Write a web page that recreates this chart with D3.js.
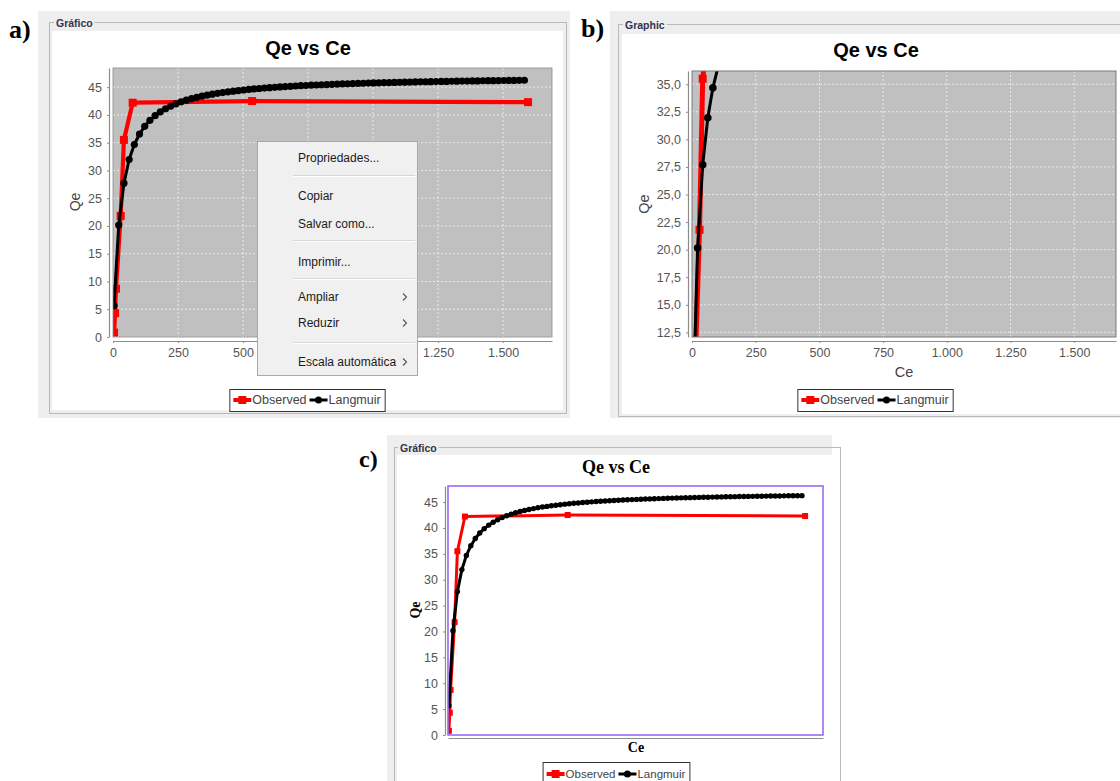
<!DOCTYPE html>
<html><head><meta charset="utf-8">
<script src="https://cdn.jsdelivr.net/npm/d3@7"></script>
<style>body{margin:0;background:#fff;} svg{display:block;}</style>
</head><body>
<svg id="chart" width="1120" height="781"></svg>
<script>
// ---------------- data ----------------
const observedCe = [4, 8, 11.5, 29.5, 42, 75.6, 535, 1596];
const observedQe = [0.8, 4.3, 8.7, 21.8, 35.5, 42.2, 42.5, 42.3];
const langmuirCe = [4, 22, 42, 62, 82, 102, 122, 142, 162, 182, 202, 222, 242, 262, 282, 302, 322, 342, 362, 382,
  402, 422, 442, 462, 482, 502, 522, 542, 562, 582, 602, 622, 642, 662, 682, 702, 722, 742, 762, 782,
  802, 822, 842, 862, 882, 902, 922, 942, 962, 982, 1002, 1022, 1042, 1062, 1082, 1102, 1122, 1142, 1162, 1182,
  1202, 1222, 1242, 1262, 1282, 1302, 1322, 1342, 1362, 1382, 1402, 1422, 1442, 1462, 1482, 1502, 1522, 1542, 1562, 1582];
const langmuirQe = [5.64, 20.15, 27.70, 31.95, 34.67, 36.56, 37.95, 39.02, 39.86, 40.55, 41.11, 41.59, 42.00, 42.35, 42.65, 42.92, 43.16, 43.37, 43.56, 43.73,
  43.89, 44.03, 44.16, 44.28, 44.39, 44.49, 44.59, 44.68, 44.76, 44.83, 44.91, 44.97, 45.04, 45.10, 45.15, 45.21, 45.26, 45.30, 45.35, 45.39,
  45.43, 45.47, 45.51, 45.55, 45.58, 45.61, 45.64, 45.67, 45.70, 45.73, 45.76, 45.78, 45.81, 45.83, 45.85, 45.88, 45.90, 45.92, 45.94, 45.96,
  45.97, 45.99, 46.01, 46.03, 46.04, 46.06, 46.07, 46.09, 46.10, 46.12, 46.13, 46.15, 46.16, 46.17, 46.18, 46.20, 46.21, 46.22, 46.23, 46.24];
const xTickValues = [0, 250, 500, 750, 1000, 1250, 1500];
const yTicksFull = [0, 5, 10, 15, 20, 25, 30, 35, 40, 45];
const yTicksZoom = [12.5, 15, 17.5, 20, 22.5, 25, 27.5, 30, 32.5, 35];
const seriesNames = ["Observed", "Langmuir"];
const seriesColors = ["#ff0000", "#000000"];
const panelLetters = ["a)", "b)", "c)"];
const frameTitles = ["Gráfico", "Graphic", "Gráfico"];
const chartTitle = "Qe vs Ce";
const xAxisTitle = "Ce";
const yAxisTitle = "Qe";
const menuLabels = ["Propriedades...", "Copiar", "Salvar como...", "Imprimir...", "Ampliar", "Reduzir", "Escala automática"];
const menuSubmenu = [false, false, false, false, true, true, true];

// ---------------- helpers ----------------
const ptBR = d3.formatLocale({decimal: ",", thousands: ".", grouping: [3], currency: ["R$", ""]});
const fmtInt = ptBR.format(",d");
const fmtOne = ptBR.format(",.1f");
const SANS = "'Liberation Sans', Arial, sans-serif";
const SERIF = "'Liberation Serif', 'Times New Roman', serif";
const MENU = {x: 257.5, y: 141.5, w: 160, h: 234};

const svg = d3.select("#chart");
svg.append("rect").attr("width", 1120).attr("height", 781).attr("fill", "#ffffff");

const observed = observedCe.map((c, i) => [c, observedQe[i]]);
const langmuir = langmuirCe.map((c, i) => [c, langmuirQe[i]]);

const panels = [
  { bg: [38, 11, 570, 418], white: [52, 31, 563, 410], frame: [49, 22, 566, 413], frameTitleX: 56,
    letter: {x: 9, y: 38, size: 26},
    title: {x: 308, y: 55, font: SANS, size: 20},
    plot: {x: 113, y: 68, w: 439, h: 269}, off: 4,
    xDomain: [0, 1688], yDomain: [0, 48.45], yTicks: yTicksFull, yFmt: fmtInt, xLabels: true, underMenu: true,
    bgFill: "#c0c0c0", grid: true, outline: "#8a8a8a", outlineW: 0.8,
    xTitle: null,
    yTitle: {x: 75, y: 202, font: SANS, size: 14, weight: "normal"},
    legend: {cx: 307, y: 389, h: 22, size: 12.5},
    style: {rw: 4.2, rs: 8, bw: 3, br: 3.6} },
  { bg: [610, 11, 1120, 418], white: [622, 34, 1120, 414], frame: [618, 24, 1125, 416], frameTitleX: 625,
    letter: {x: 581, y: 37, size: 26},
    title: {x: 876, y: 57, font: SANS, size: 20},
    plot: {x: 692, y: 71, w: 424, h: 266}, off: 4,
    xDomain: [0, 1664], yDomain: [12.08, 36.2], yTicks: yTicksZoom, yFmt: fmtOne, xLabels: true, underMenu: false,
    bgFill: "#c0c0c0", grid: true, outline: "#7a7a7a", outlineW: 1,
    xTitle: {x: 904, y: 377, font: SANS, size: 14.5, weight: "normal"},
    yTitle: {x: 644, y: 204, font: SANS, size: 14.5, weight: "normal"},
    legend: {cx: 875, y: 389, h: 22, size: 12.5},
    style: {rw: 5, rs: 8, bw: 3, br: 3.8} },
  { bg: [387, 435, 832, 790], white: [397, 455, 832, 790], frame: [394, 447, 840, 800], frameTitleX: 400,
    letter: {x: 359, y: 467, size: 24},
    title: {x: 616, y: 473, font: SERIF, size: 18},
    plot: {x: 448, y: 486, w: 375, h: 249}, off: 3,
    xDomain: [0, 1676], yDomain: [0, 48.1], yTicks: yTicksFull, yFmt: fmtInt, xLabels: false, underMenu: false,
    bgFill: "#ffffff", grid: false, outline: "#9a6cf2", outlineW: 1.6,
    xTitle: {x: 636, y: 752, font: SERIF, size: 14, weight: "bold"},
    yTitle: {x: 415, y: 610, font: SERIF, size: 14, weight: "bold"},
    legend: {cx: 616, y: 762, h: 24, size: 11.5},
    style: {rw: 3, rs: 6, bw: 3, br: 2.7} }
];

function drawPanel(p, i) {
  const g = svg.append("g");
  g.append("rect").attr("x", p.bg[0]).attr("y", p.bg[1])
    .attr("width", p.bg[2] - p.bg[0]).attr("height", p.bg[3] - p.bg[1]).attr("fill", "#eeeeee");
  g.append("rect").attr("x", p.white[0]).attr("y", p.white[1])
    .attr("width", p.white[2] - p.white[0]).attr("height", p.white[3] - p.white[1]).attr("fill", "#ffffff");
  g.append("rect").attr("x", p.frame[0] + 0.5).attr("y", p.frame[1] + 0.5)
    .attr("width", p.frame[2] - p.frame[0]).attr("height", p.frame[3] - p.frame[1])
    .attr("fill", "none").attr("stroke", "#b8b8b8").attr("stroke-width", 1);
  const ft = g.append("text").attr("x", p.frameTitleX).attr("y", p.frame[1] + 4.5)
    .attr("font-family", SANS).attr("font-weight", "bold").attr("font-size", 10.5)
    .attr("fill", "#33334d").text(frameTitles[i]);
  const bb = ft.node().getBBox();
  g.insert("rect", () => ft.node()).attr("x", bb.x - 2).attr("y", bb.y).attr("width", bb.width + 4)
    .attr("height", bb.height).attr("fill", "#eeeeee");

  svg.append("text").attr("x", p.letter.x).attr("y", p.letter.y)
    .attr("font-family", SERIF).attr("font-weight", "bold").attr("font-size", p.letter.size)
    .attr("fill", "#000").text(panelLetters[i]);

  g.append("text").attr("x", p.title.x).attr("y", p.title.y).attr("text-anchor", "middle")
    .attr("font-family", p.title.font).attr("font-weight", "bold").attr("font-size", p.title.size)
    .attr("fill", "#000").text(chartTitle);

  const P = p.plot;
  const x = d3.scaleLinear().domain(p.xDomain).range([P.x, P.x + P.w]);
  const y = d3.scaleLinear().domain(p.yDomain).range([P.y + P.h, P.y]);

  g.append("rect").attr("x", P.x).attr("y", P.y).attr("width", P.w).attr("height", P.h).attr("fill", p.bgFill);

  if (p.grid) {
    g.append("g").selectAll("line").data(xTickValues.filter(v => v > p.xDomain[0])).join("line")
      .attr("x1", d => x(d)).attr("x2", d => x(d)).attr("y1", P.y).attr("y2", P.y + P.h)
      .attr("stroke", "#ffffff").attr("stroke-width", 0.8).attr("stroke-dasharray", "2,2").attr("opacity", 0.85);
    g.append("g").selectAll("line").data(p.yTicks).join("line")
      .attr("x1", P.x).attr("x2", P.x + P.w).attr("y1", d => y(d)).attr("y2", d => y(d))
      .attr("stroke", "#ffffff").attr("stroke-width", 0.8).attr("stroke-dasharray", "2,2").attr("opacity", 0.85);
  }

  // x tick values whose labels are not hidden by the context menu
  const shownX = xTickValues.filter(v => !(p.underMenu && x(v) > MENU.x && x(v) < MENU.x + MENU.w));

  const yAxis = d3.axisLeft(y).tickValues(p.yTicks).tickFormat(p.yFmt).tickSizeInner(2).tickSizeOuter(0).tickPadding(5);
  const ya = g.append("g").attr("transform", `translate(${P.x - p.off},0)`).call(yAxis);
  const xAxis = d3.axisBottom(x).tickValues(p.xLabels ? shownX : []).tickFormat(fmtInt)
    .tickSizeInner(2).tickSizeOuter(0).tickPadding(5);
  const xa = g.append("g").attr("transform", `translate(0,${P.y + P.h + p.off})`).call(xAxis);
  [ya, xa].forEach(a => {
    a.select(".domain").attr("stroke", "#8c8c8c").attr("stroke-width", 1.2);
    a.selectAll(".tick line").attr("stroke", "#8c8c8c");
    a.selectAll(".tick text").attr("fill", "#555555").attr("font-family", SANS).attr("font-size", 12.5);
  });

  if (p.xTitle) {
    g.append("text").attr("x", p.xTitle.x).attr("y", p.xTitle.y).attr("text-anchor", "middle")
      .attr("font-family", p.xTitle.font).attr("font-weight", p.xTitle.weight).attr("font-size", p.xTitle.size)
      .attr("fill", i === 2 ? "#000" : "#444").text(xAxisTitle);
  }
  g.append("text").attr("transform", `translate(${p.yTitle.x},${p.yTitle.y}) rotate(-90)`)
    .attr("text-anchor", "middle").attr("dominant-baseline", "central")
    .attr("font-family", p.yTitle.font).attr("font-weight", p.yTitle.weight).attr("font-size", p.yTitle.size)
    .attr("fill", i === 2 ? "#000" : "#444").text(yAxisTitle);

  const cid = "clip" + i;
  svg.append("clipPath").attr("id", cid).append("rect").attr("x", P.x).attr("y", P.y).attr("width", P.w).attr("height", P.h);
  const sg = g.append("g").attr("clip-path", `url(#${cid})`);
  const line = d3.line().x(d => x(d[0])).y(d => y(d[1]));
  const s = p.style;
  sg.append("path").datum(observed).attr("d", line).attr("fill", "none")
    .attr("stroke", seriesColors[0]).attr("stroke-width", s.rw).attr("stroke-linejoin", "round");
  sg.append("g").selectAll("rect").data(observed).join("rect")
    .attr("x", d => x(d[0]) - s.rs / 2).attr("y", d => y(d[1]) - s.rs / 2)
    .attr("width", s.rs).attr("height", s.rs).attr("fill", seriesColors[0]);
  sg.append("path").datum(langmuir).attr("d", line).attr("fill", "none")
    .attr("stroke", seriesColors[1]).attr("stroke-width", s.bw).attr("stroke-linejoin", "round");
  sg.append("g").selectAll("circle").data(langmuir).join("circle")
    .attr("cx", d => x(d[0])).attr("cy", d => y(d[1])).attr("r", s.br).attr("fill", seriesColors[1]);

  g.append("rect").attr("x", P.x).attr("y", P.y).attr("width", P.w).attr("height", P.h)
    .attr("fill", "none").attr("stroke", p.outline).attr("stroke-width", p.outlineW);

  // legend
  const L = p.legend;
  const lg = g.append("g");
  const box = lg.append("rect").attr("fill", "#ffffff").attr("stroke", "#333").attr("stroke-width", 1);
  let cx = 0;
  const cy = L.y + L.h / 2;
  const items = [];
  seriesNames.forEach((name, k) => {
    const it = lg.append("g");
    it.append("line").attr("x1", cx).attr("x2", cx + 18).attr("y1", cy).attr("y2", cy)
      .attr("stroke", seriesColors[k]).attr("stroke-width", k === 0 ? 4 : 3);
    if (k === 0) it.append("rect").attr("x", cx + 5).attr("y", cy - 4).attr("width", 8).attr("height", 8).attr("fill", seriesColors[k]);
    else it.append("circle").attr("cx", cx + 9).attr("cy", cy).attr("r", 3.5).attr("fill", seriesColors[k]);
    const t = it.append("text").attr("x", cx + 19).attr("y", cy).attr("dominant-baseline", "central")
      .attr("font-family", SANS).attr("font-size", L.size).attr("fill", "#444").text(name);
    cx += 19 + t.node().getComputedTextLength() + 3;
    items.push(it);
  });
  const totalW = cx - 3 + 8;
  const x0 = L.cx - totalW / 2;
  items.forEach(it => it.attr("transform", `translate(${x0 + 4},0)`));
  box.attr("x", x0 + 0.5).attr("y", L.y + 0.5).attr("width", totalW).attr("height", L.h);
}

panels.forEach(drawPanel);

// ---------------- context menu over panel a ----------------
const menu = svg.append("g");
menu.append("rect").attr("x", MENU.x).attr("y", MENU.y).attr("width", MENU.w).attr("height", MENU.h)
  .attr("fill", "#f0f0f0").attr("stroke", "#a8a8a8").attr("stroke-width", 1);
const menuY = [158, 196, 224, 262, 297, 323, 362];
const sepY = [175, 240, 278, 342];
sepY.forEach(sy => {
  menu.append("line").attr("x1", 293).attr("x2", 415).attr("y1", sy + 0.5).attr("y2", sy + 0.5).attr("stroke", "#d6d6d6");
  menu.append("line").attr("x1", 293).attr("x2", 415).attr("y1", sy + 1.5).attr("y2", sy + 1.5).attr("stroke", "#ffffff");
});
menuLabels.forEach((lab, k) => {
  menu.append("text").attr("x", 298).attr("y", menuY[k]).attr("dominant-baseline", "central")
    .attr("font-family", SANS).attr("font-size", 12).attr("fill", "#1a1a1a").text(lab);
  if (menuSubmenu[k]) {
    menu.append("path").attr("d", `M403,${menuY[k] - 3.5} L406.5,${menuY[k]} L403,${menuY[k] + 3.5}`)
      .attr("fill", "none").attr("stroke", "#555").attr("stroke-width", 1.1);
  }
});
</script>
</body></html>
